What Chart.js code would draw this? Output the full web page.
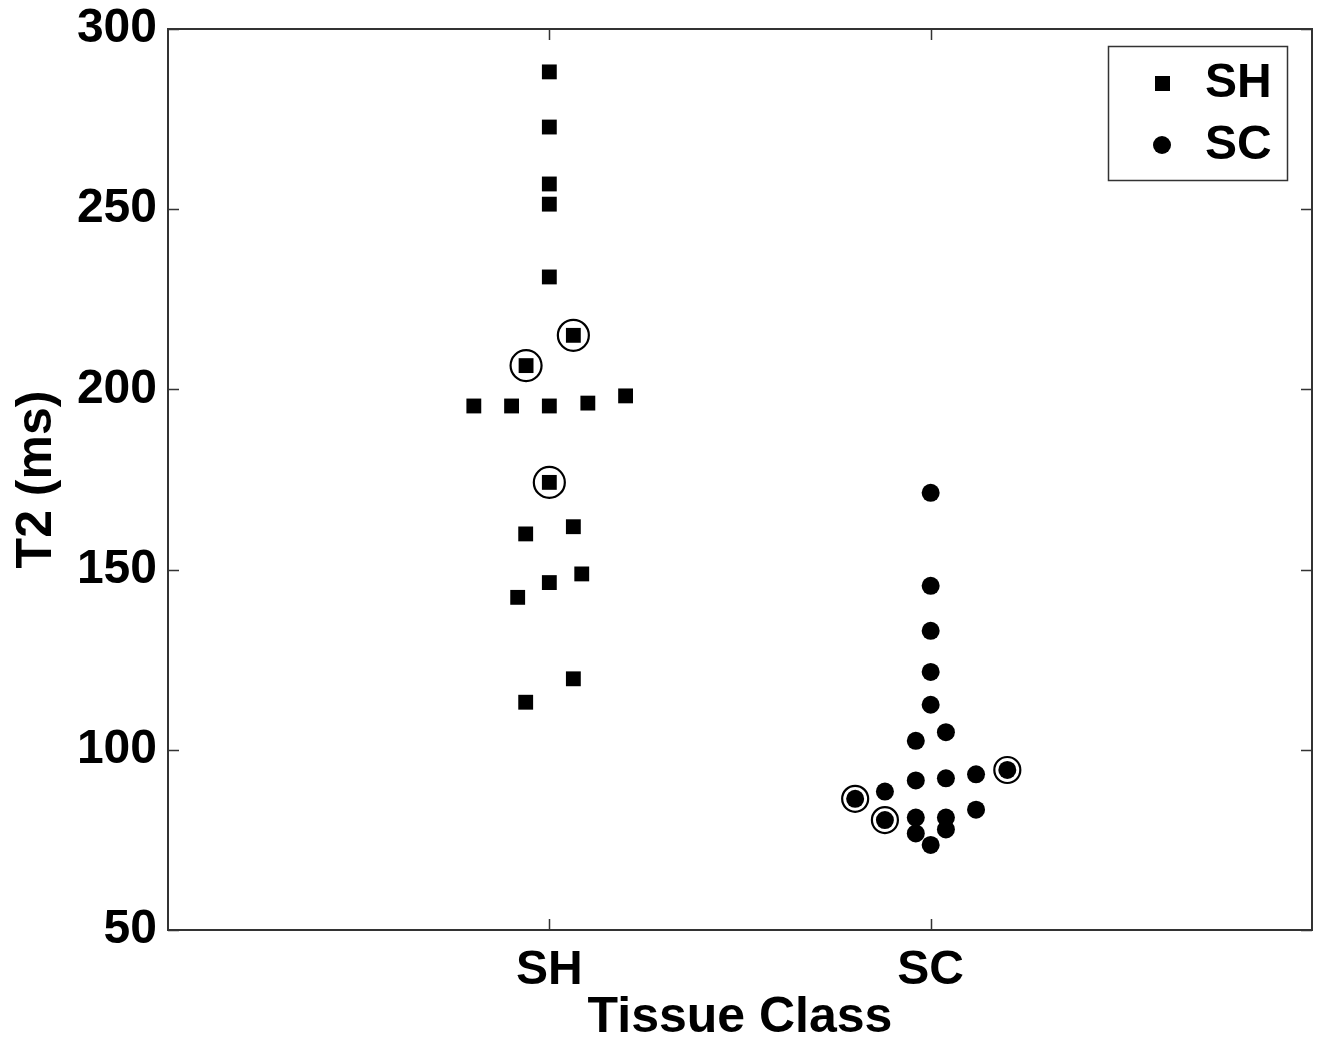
<!DOCTYPE html>
<html>
<head>
<meta charset="utf-8">
<script src="https://cdn.jsdelivr.net/npm/chart.js@4"></script>
<style>
  body { margin: 0; background: #fff; }
  canvas { display: block; }
</style>
</head>
<body>
<canvas id="t2Chart" width="1319" height="1043"></canvas>
<script>
Chart.defaults.font.family = "'Liberation Sans', Arial, sans-serif";
Chart.defaults.font.weight = 'bold';
Chart.defaults.color = '#000';

// ── Data ────────────────────────────────────────────────────
const categories = ['SH', 'SC'];
const yTicks = [50, 100, 150, 200, 250, 300];

const shX = [1.000, 1.000, 1.000, 1.000, 1.000, 1.063, 0.939, 0.802, 0.901, 1.000,
             1.101, 1.200, 1.000, 1.063, 0.938, 1.085, 1.000, 0.917, 1.063, 0.938];
const shY = [288.1, 272.8, 257.0, 251.4, 231.2, 215.0, 206.6, 195.4, 195.4, 195.4,
             196.2, 198.2, 174.2, 161.9, 159.9, 148.8, 146.4, 142.3, 119.7, 113.2];
const shRing = [5, 6, 12];

const scX = [2.000, 2.000, 2.000, 2.000, 2.000, 2.040, 1.961, 2.201, 2.119, 2.040,
             1.961, 1.880, 1.802, 2.119, 1.961, 2.040, 1.880, 2.040, 1.961, 2.000];
const scY = [171.3, 145.5, 133.0, 121.6, 112.5, 104.9, 102.5, 94.4, 93.2, 92.1,
             91.5, 88.4, 86.4, 83.4, 81.2, 81.2, 80.5, 77.9, 76.8, 73.6];
const scRing = [7, 12, 16];

const pts = (xs, ys) => xs.map((x, i) => ({ x, y: ys[i] }));
const ring = (xs, ys, idx) => idx.map(i => ({ x: xs[i], y: ys[i] }));

// ── Helpers: box, inward ticks, legend ─────────────────────
const AXIS = '#333';
const frame = {
  id: 'frame',
  beforeDatasetsDraw(chart) {
    const { ctx, chartArea: a, scales: { x, y } } = chart;
    ctx.save();
    ctx.strokeStyle = AXIS;
    ctx.lineWidth = 1.5;
    ctx.beginPath();
    yTicks.forEach(v => {
      const py = Math.round(y.getPixelForValue(v)) + 0.5;
      ctx.moveTo(a.left, py); ctx.lineTo(a.left + 11, py);
      ctx.moveTo(a.right, py); ctx.lineTo(a.right - 11, py);
    });
    categories.forEach((c, i) => {
      const px = Math.round(x.getPixelForValue(i + 1)) + 0.5;
      ctx.moveTo(px, a.bottom); ctx.lineTo(px, a.bottom - 11);
      ctx.moveTo(px, a.top); ctx.lineTo(px, a.top + 11);
    });
    ctx.stroke();
    ctx.lineWidth = 2;
    ctx.strokeRect(a.left, a.top, a.right - a.left, a.bottom - a.top);
    ctx.restore();
  },
  afterDraw(chart) {
    const { ctx } = chart;
    ctx.save();
    ctx.strokeStyle = AXIS;
    ctx.lineWidth = 1.5;
    ctx.strokeRect(1108.5, 46.5, 179, 134);
    ctx.fillStyle = '#000';
    ctx.fillRect(1155, 76, 15, 15);
    ctx.beginPath();
    ctx.arc(1162, 145, 9, 0, Math.PI * 2);
    ctx.fill();
    ctx.font = "bold 48px 'Liberation Sans', Arial, sans-serif";
    ctx.textBaseline = 'middle';
    ctx.fillText(chart.data.datasets[0].label, 1205, 84);
    ctx.fillText(chart.data.datasets[1].label, 1205, 146);
    ctx.restore();
  }
};

new Chart(document.getElementById('t2Chart'), {
  type: 'scatter',
  data: {
    datasets: [
      { label: categories[0], data: pts(shX, shY), pointStyle: 'rect', pointRadius: 10.5,
        backgroundColor: '#000', borderWidth: 0 },
      { label: categories[1], data: pts(scX, scY), pointStyle: 'circle', pointRadius: 9,
        backgroundColor: '#000', borderWidth: 0 },
      { label: 'ring-sh', data: ring(shX, shY, shRing), pointStyle: 'circle', pointRadius: 15.5,
        backgroundColor: 'rgba(0,0,0,0)', borderColor: '#000', borderWidth: 2.2 },
      { label: 'ring-sc', data: ring(scX, scY, scRing), pointStyle: 'circle', pointRadius: 13,
        backgroundColor: 'rgba(0,0,0,0)', borderColor: '#000', borderWidth: 2.2 }
    ]
  },
  options: {
    responsive: false, animation: false, devicePixelRatio: 1,
    layout: { autoPadding: false, padding: { left: 0, top: 29, right: 7, bottom: 0 } },
    plugins: { legend: { display: false }, tooltip: { enabled: false } },
    scales: {
      x: {
        type: 'linear', min: 0, max: 3,
        grid: { display: false, drawTicks: false }, border: { display: false },
        afterBuildTicks: s => { s.ticks = categories.map((c, i) => ({ value: i + 1 })); },
        afterFit: s => { s.height = 113; s.paddingLeft = 0; s.paddingRight = 0; },
        ticks: { autoSkip: false, maxRotation: 0, padding: 12, font: { size: 48 },
                 callback: v => categories[v - 1] || '' },
        title: { display: true, text: 'Tissue Class', font: { size: 50, lineHeight: 1 }, padding: 0 }
      },
      y: {
        min: 50, max: 300,
        grid: { display: false, drawTicks: false }, border: { display: false },
        afterBuildTicks: s => { s.ticks = yTicks.map(v => ({ value: v })); },
        afterFit: s => { s.width = 168; s.paddingTop = 0; s.paddingBottom = 0; },
        ticks: { padding: 11, font: { size: 48 } },
        title: { display: true, text: 'T2 (ms)', font: { size: 50, lineHeight: 1 }, padding: { top: 12, bottom: 0 } }
      }
    }
  },
  plugins: [frame]
});
</script>
</body>
</html>
